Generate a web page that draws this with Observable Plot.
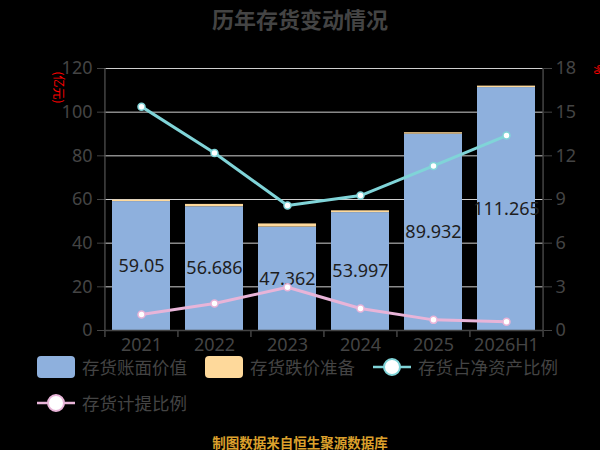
<!DOCTYPE html>
<html>
<head>
<meta charset="utf-8">
<script src="https://cdn.jsdelivr.net/npm/d3@7"></script>
<script src="https://cdn.jsdelivr.net/npm/@observablehq/plot@0.6"></script>
<style>
  html, body { margin: 0; padding: 0; background: #000; }
  body { width: 600px; height: 450px; overflow: hidden; font-family: "Noto Sans", "Noto Sans CJK SC", sans-serif; }
  #title { height: 36px; line-height: 36px; text-align: center; color: #444; font-weight: bold; font-size: 22px; font-family: "Noto Sans CJK SC", sans-serif; }
  .row { display: flex; align-items: center; height: 22px; padding-left: 37px; }
  .sw { width: 38px; height: 22px; border-radius: 4px; margin-right: 7px; }
  .lab { font-size: 17.5px; color: #444; margin-right: 18px; white-space: nowrap; line-height: 22px; font-family: "Noto Sans CJK SC", sans-serif; }
  .ic { width: 38px; height: 22px; margin-right: 7px; display: block; }
  #caption { text-align: center; color: #dca02c; font-weight: bold; font-size: 13.5px; line-height: 14px; margin-top: 21px; font-family: "Noto Sans CJK SC", sans-serif; }
</style>
</head>
<body>
<div id="title">历年存货变动情况</div>
<div id="chart"></div>
<div id="legend"></div>
<div id="caption">制图数据来自恒生聚源数据库</div>
<script>
const years = ["2021", "2022", "2023", "2024", "2025", "2026H1"];
const bookValue = [59.05, 56.686, 47.362, 53.997, 89.932, 111.265];
const reserveValue = [0.66, 1.07, 1.45, 0.83, 0.66, 0.67];
const ratioNetAssets = [15.38, 12.2, 8.59, 9.27, 11.31, 13.39];
const provisionRatio = [1.10, 1.85, 2.97, 1.51, 0.73, 0.60];
const leftTicks = [0, 20, 40, 60, 80, 100, 120];
const rightTicks = [0, 3, 6, 9, 12, 15, 18];
const seriesNames = ["存货账面价值", "存货跌价准备", "存货占净资产比例", "存货计提比例"];
const colors = ["#8eb0dd", "#fed99b", "#80d4d8", "#e8b4d8"];

const leftMax = leftTicks[leftTicks.length - 1];
const rightMax = rightTicks[rightTicks.length - 1];
const toLeft = v => v * leftMax / rightMax;

const table = years.map((year, i) => ({
  year, book: bookValue[i], reserve: reserveValue[i],
  ratio: ratioNetAssets[i], provision: provisionRatio[i]
}));
const rows = table.flatMap(d => [
  {year: d.year, series: seriesNames[0], value: d.book},
  {year: d.year, series: seriesNames[1], value: d.reserve}
]);

const W = 600, H = 320, mL = 104, mR = 57, mT = 32, mB = 26;
const step = (W - mL - mR) / years.length;
const frameH = H - mT - mB;
const axisColor = "#444";

const chart = Plot.plot({
  width: W, height: H,
  marginLeft: mL, marginRight: mR, marginTop: mT, marginBottom: mB,
  style: {background: "#000", color: axisColor, fontFamily: '"Noto Sans", "Noto Sans CJK SC", sans-serif', overflow: "visible"},
  x: {domain: years, paddingInner: 0.2, paddingOuter: 0.1},
  y: {domain: [0, leftMax]},
  color: {domain: seriesNames.slice(0, 2), range: colors.slice(0, 2)},
  marks: [
    Plot.gridY(leftTicks, {stroke: "#cfcfcf", strokeOpacity: 1, strokeWidth: 1}),
    Plot.barY(rows, {x: "year", y: "value", fill: "series", order: seriesNames.slice(0, 2)}),
    Plot.ruleY([0], {stroke: axisColor, strokeWidth: 1.5}),
    Plot.ruleX([years[0]], {x: d => d, dx: -step / 2, insetBottom: -7, stroke: axisColor, strokeWidth: 1.5}),
    Plot.ruleX([years[years.length - 1]], {x: d => d, dx: step / 2, insetBottom: -7, stroke: axisColor, strokeWidth: 1.5}),
    Plot.ruleX(years.slice(1), {x: d => d, dx: -step / 2, insetTop: frameH, insetBottom: -7, stroke: axisColor, strokeWidth: 1.5}),
    Plot.axisY(leftTicks, {anchor: "left", tickSize: 7, tickPadding: 5, fontSize: 18, label: null}),
    Plot.axisY(leftTicks, {anchor: "right", tickSize: 8, tickPadding: 4, fontSize: 18, label: null,
      tickFormat: d => String(rightTicks[leftTicks.indexOf(d)])}),
    Plot.axisX({tickSize: 0, tickPadding: 8, fontSize: 18, label: null}),
    Plot.text(table, {x: "year", y: d => d.book / 2, text: d => String(d.book), fontSize: 18, fill: "#1e1e1e"}),
    Plot.line(table, {x: "year", y: d => toLeft(d.ratio), stroke: colors[2], strokeWidth: 3}),
    Plot.dot(table, {x: "year", y: d => toLeft(d.ratio), r: 3.5, fill: "#fff", stroke: colors[2], strokeWidth: 1.5}),
    Plot.line(table, {x: "year", y: d => toLeft(d.provision), stroke: colors[3], strokeWidth: 3}),
    Plot.dot(table, {x: "year", y: d => toLeft(d.provision), r: 3.5, fill: "#fff", stroke: colors[3], strokeWidth: 1.5}),
    Plot.text(["(亿元)"], {frameAnchor: "top-left", dx: -47, dy: 19, rotate: 90, fill: "red", fontSize: 12, textAnchor: "middle", lineAnchor: "middle", fontFamily: "Noto Sans CJK SC"}),
    Plot.text(["%"], {frameAnchor: "top-right", dx: 54, dy: 1, rotate: 90, fill: "red", fontSize: 12, textAnchor: "middle", lineAnchor: "middle"})
  ]
});
document.getElementById("chart").appendChild(chart);

const legend = document.getElementById("legend");
function swatchItem(row, name, color) {
  const s = document.createElement("div");
  s.className = "sw"; s.style.background = color;
  const t = document.createElement("span");
  t.className = "lab"; t.textContent = name;
  row.appendChild(s); row.appendChild(t);
}
function lineItem(row, name, color) {
  const ns = "http://www.w3.org/2000/svg";
  const svg = document.createElementNS(ns, "svg");
  svg.setAttribute("class", "ic"); svg.setAttribute("width", 38); svg.setAttribute("height", 22);
  const ln = document.createElementNS(ns, "line");
  ln.setAttribute("x1", 0); ln.setAttribute("x2", 38); ln.setAttribute("y1", 11); ln.setAttribute("y2", 11);
  ln.setAttribute("stroke", color); ln.setAttribute("stroke-width", 2.5);
  const c = document.createElementNS(ns, "circle");
  c.setAttribute("cx", 19); c.setAttribute("cy", 11); c.setAttribute("r", 8);
  c.setAttribute("fill", "#fff"); c.setAttribute("stroke", color); c.setAttribute("stroke-width", 2);
  svg.appendChild(ln); svg.appendChild(c);
  const t = document.createElement("span");
  t.className = "lab"; t.textContent = name;
  row.appendChild(svg); row.appendChild(t);
}
const row1 = document.createElement("div"); row1.className = "row";
swatchItem(row1, seriesNames[0], colors[0]);
swatchItem(row1, seriesNames[1], colors[1]);
lineItem(row1, seriesNames[2], colors[2]);
const row2 = document.createElement("div"); row2.className = "row"; row2.style.marginTop = "14px";
lineItem(row2, seriesNames[3], colors[3]);
legend.appendChild(row1); legend.appendChild(row2);
</script>
</body>
</html>
